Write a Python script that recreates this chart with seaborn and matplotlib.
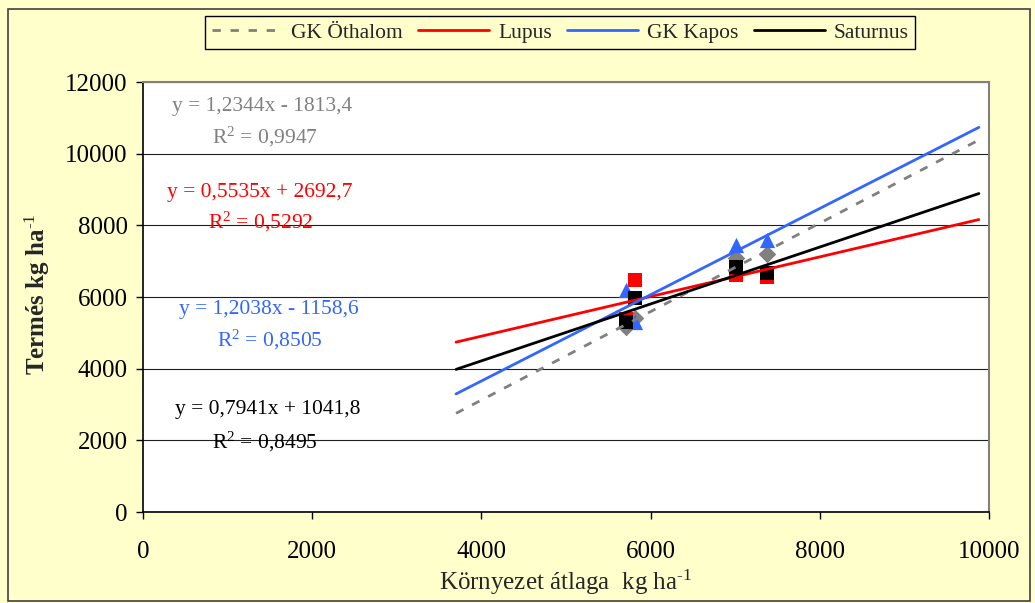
import matplotlib
matplotlib.use("Agg")
import matplotlib.pyplot as plt
from matplotlib.lines import Line2D
from matplotlib.patches import Rectangle
import numpy as np
import pandas as pd
import seaborn as sns

# ---- data -------------------------------------------------------------
varieties = ["GK Öthalom", "Lupus", "GK Kapos", "Saturnus"]
env_mean = [5706, 5816, 7005, 7372]          # environment average, kg/ha
yield_othalom = [5150, 5423, 7080, 7191]
yield_lupus = [5400, 6475, 6615, 6568]
yield_kapos = [6196, 5294, 7452, 7591]
yield_saturnus = [5294, 5964, 6846, 6662]

# linear trend lines (slope, intercept, R²) per variety
slopes = [1.2344, 0.5535, 1.2038, 0.7941]
intercepts = [-1813.4, 2692.7, -1158.6, 1041.8]
r_squared = [0.9947, 0.5292, 0.8505, 0.8495]
trend_x = [3700, 9880]                        # forecast range of the trend lines

x_ticks = [0, 2000, 4000, 6000, 8000, 10000]
y_ticks = [0, 2000, 4000, 6000, 8000, 10000, 12000]

# ---- styling ----------------------------------------------------------
colors = {"GK Öthalom": "#808080", "Lupus": "#FF0000",
          "GK Kapos": "#3366FF", "Saturnus": "#000000"}
markers = {"GK Öthalom": "D", "Lupus": "s", "GK Kapos": "^", "Saturnus": "s"}
marker_size = {"GK Öthalom": 80, "Lupus": 100, "GK Kapos": 120, "Saturnus": 100}
dashes = {"GK Öthalom": (0, (3, 3.5)), "Lupus": "-", "GK Kapos": "-", "Saturnus": "-"}
# equation label anchor (data coords): equation line, R² line
label_pos = {"GK Öthalom": ((1410, 11330), (1440, 10470)),
             "Lupus": ((1385, 8930), (1385, 8090)),
             "GK Kapos": ((1490, 5640), (1500, 4800)),
             "Saturnus": ((1480, 2850), (1440, 1950))}

sns.set_style("white")
plt.rcParams["font.family"] = ["Liberation Serif", "DejaVu Serif"]
plt.rcParams["mathtext.fontset"] = "custom"
plt.rcParams["mathtext.rm"] = "Liberation Serif"
plt.rcParams["mathtext.it"] = "Liberation Serif:italic"
plt.rcParams["mathtext.bf"] = "Liberation Serif:bold"

bg = "#FFFFCC"
fig = plt.figure(figsize=(10.35, 6.03), dpi=100, facecolor=bg)
ax = fig.add_axes([0.1382, 0.1509, 0.8174, 0.7131])
ax.set_facecolor("white")

series = [yield_othalom, yield_lupus, yield_kapos, yield_saturnus]
df = pd.DataFrame({
    "env": np.tile(env_mean, len(varieties)),
    "yield": np.concatenate(series),
    "variety": np.repeat(varieties, len(env_mean)),
})

# points
for i, v in enumerate(varieties):
    sub = df[df["variety"] == v]
    sns.scatterplot(data=sub, x="env", y="yield", color=colors[v],
                    marker=markers[v], s=marker_size[v], linewidth=0,
                    legend=False, ax=ax, zorder=3 + i)

# trend lines and their equations
tx = np.array(trend_x, dtype=float)
handles = []
for i, v in enumerate(varieties):
    ty = slopes[i] * tx + intercepts[i]
    sns.lineplot(x=tx, y=ty, color=colors[v], linewidth=2.0,
                 linestyle=dashes[v], ax=ax, zorder=10 + i, legend=False)
    handles.append(Line2D([], [], color=colors[v], linewidth=2.0,
                          linestyle=dashes[v], label=v))
    sign = "+" if intercepts[i] >= 0 else "-"
    eq = f"y = {slopes[i]:.4f}x {sign} {abs(intercepts[i]):.1f}".replace(".", ",")
    r2 = r"R$^{\mathregular{2}}$ = " + f"{r_squared[i]:.4f}".replace(".", ",")
    (ex, ey), (rx, ry) = label_pos[v]
    ax.text(ex, ey, eq, color=colors[v], fontsize=15.5, ha="center", va="center", zorder=20)
    ax.text(rx, ry, r2, color=colors[v], fontsize=15.5, ha="center", va="center", zorder=20)

# axes
ax.set_xlim(0, 10000)
ax.set_ylim(0, 12000)
ax.set_xticks(x_ticks)
ax.set_yticks(y_ticks)
ax.set_xticklabels([str(t) for t in x_ticks])
ax.set_yticklabels([str(t) for t in y_ticks])
ax.tick_params(axis="both", which="major", direction="out", length=5,
               width=1, color="black", labelsize=18, labelcolor="black")
ax.tick_params(axis="x", pad=16, bottom=True)
ax.tick_params(axis="y", pad=6, left=True)
ax.yaxis.grid(True, color="#202020", linewidth=0.8)
ax.xaxis.grid(False)
ax.set_axisbelow(True)
for side in ("left", "bottom"):
    ax.spines[side].set_color("black")
    ax.spines[side].set_linewidth(1.2)
for side in ("top", "right"):
    ax.spines[side].set_color("#808080")
    ax.spines[side].set_linewidth(1.5)

ax.set_xlabel(r"Környezet átlaga  kg ha$^{\text{-1}}$", fontsize=18)
ax.set_ylabel(r"Termés kg ha$^{\text{-1}}$", fontsize=18, fontweight="bold")
ax.xaxis.label.set_va("center")
ax.yaxis.label.set_va("center")
ax.xaxis.set_label_coords((566 - 143) / 846, (512 - 582) / 430)
ax.yaxis.set_label_coords((37 - 143) / 846, (512 - 294) / 430)

# legend at the top of the chart area
leg = ax.legend(handles=handles, loc="center", ncol=4,
                bbox_to_anchor=(560 / 1035, 1 - 32.5 / 603),
                bbox_transform=fig.transFigure, fontsize=15.5, frameon=True,
                fancybox=False, edgecolor="black", facecolor=bg, framealpha=1,
                handlelength=3.3, handletextpad=0.4, columnspacing=0.72,
                borderpad=0.3)
leg.get_frame().set_linewidth(1.0)

# chart area border
fig.add_artist(Rectangle((8 / 1035, 1 - 601 / 603), 1022 / 1035, 592 / 603,
                         transform=fig.transFigure, fill=False,
                         edgecolor="#404040", linewidth=1.2))

fig.savefig("out.png", dpi=100, facecolor=bg)
